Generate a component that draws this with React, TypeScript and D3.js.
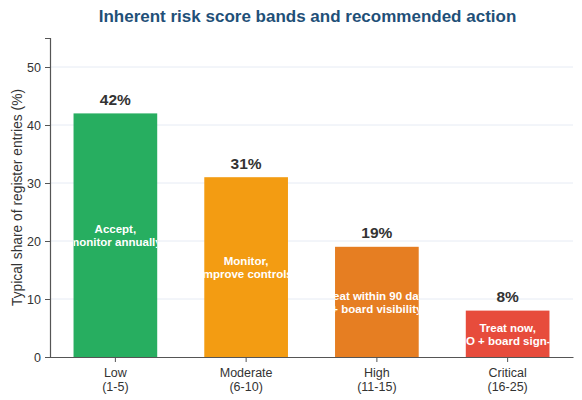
import { useEffect, useRef } from 'react';
import * as d3 from 'd3';

const WIDTH = 582;
const HEIGHT = 400;
const MARGIN = { top: 38, right: 9, bottom: 43, left: 50 };

const bands = ['Low', 'Moderate', 'High', 'Critical'];
const ranges = ['(1-5)', '(6-10)', '(11-15)', '(16-25)'];
const shares = [42, 31, 19, 8];
const actions = [
  ['Accept,', 'monitor annually'],
  ['Monitor,', 'improve controls'],
  ['Treat within 90 days', '+ board visibility'],
  ['Treat now,', 'CEO + board sign-off'],
];
const colors = ['#27ae60', '#f39c12', '#e67e22', '#e74c3c'];
const yTicks = [0, 10, 20, 30, 40, 50];

const FONT = '"Liberation Sans", Arial, sans-serif';

export default function App() {
  const svgRef = useRef<SVGSVGElement>(null);

  useEffect(() => {
    if (!svgRef.current) return;
    const svg = d3.select(svgRef.current);
    svg.selectAll('*').remove();

    const boundsWidth = WIDTH - MARGIN.left - MARGIN.right;
    const boundsHeight = HEIGHT - MARGIN.top - MARGIN.bottom;

    const x = d3.scaleBand().domain(bands).range([0, boundsWidth]).paddingInner(0.36).paddingOuter(0.18);
    const y = d3.scaleLinear().domain([0, 55]).range([boundsHeight, 0]);

    const g = svg.append('g').attr('transform', `translate(${MARGIN.left},${MARGIN.top})`);

    // grid
    g.selectAll('.grid')
      .data(yTicks.filter(t => t > 0))
      .join('line')
      .attr('x1', 0)
      .attr('x2', boundsWidth)
      .attr('y1', d => y(d))
      .attr('y2', d => y(d))
      .attr('stroke', '#e6ebf4')
      .attr('stroke-width', 1);

    const defs = svg.append('defs');
    bands.forEach((b, i) => {
      defs.append('clipPath').attr('id', `clip-${i}`)
        .append('rect')
        .attr('x', x(b)!)
        .attr('y', y(shares[i]))
        .attr('width', x.bandwidth())
        .attr('height', boundsHeight - y(shares[i]));
    });

    // bars
    g.selectAll('.bar')
      .data(bands)
      .join('rect')
      .attr('x', d => x(d)!)
      .attr('y', (_, i) => y(shares[i]))
      .attr('width', x.bandwidth())
      .attr('height', (_, i) => boundsHeight - y(shares[i]))
      .attr('fill', (_, i) => colors[i]);

    // value labels
    g.selectAll('.val')
      .data(bands)
      .join('text')
      .attr('x', d => x(d)! + x.bandwidth() / 2)
      .attr('y', (_, i) => y(shares[i]) - 8.5)
      .attr('text-anchor', 'middle')
      .style('font-family', FONT)
      .style('font-size', '15.5px')
      .style('font-weight', 'bold')
      .style('fill', '#333333')
      .text((_, i) => `${shares[i]}%`);

    // action labels inside bars (clipped to the bar)
    bands.forEach((b, i) => {
      const cx = x(b)! + x.bandwidth() / 2;
      const cy = y(shares[i] / 2);
      const t = g.append('text')
        .attr('clip-path', `url(#clip-${i})`)
        .attr('text-anchor', 'middle')
        .style('font-family', FONT)
        .style('font-size', '11.5px')
        .style('font-weight', 'bold')
        .style('fill', '#ffffff');
      actions[i].forEach((line, j) => {
        t.append('tspan')
          .attr('x', cx)
          .attr('y', cy + (j - 0.5) * 13.5 + 4.5)
          .text(line);
      });
    });

    // y axis
    const yAxis = g.append('g')
      .call(d3.axisLeft(y).tickValues(yTicks).tickSize(5).tickPadding(4));
    yAxis.select('.domain').attr('stroke', '#555555').attr('stroke-width', 1.2);
    yAxis.selectAll('.tick line').attr('stroke', '#555555');
    yAxis.selectAll('text')
      .style('font-family', FONT)
      .style('font-size', '12.5px')
      .style('fill', '#333333');

    // x axis
    const xAxis = g.append('g')
      .attr('transform', `translate(0,${boundsHeight})`)
      .call(d3.axisBottom(x).tickSize(5).tickSizeOuter(0).tickFormat(() => ''));
    xAxis.select('.domain').attr('stroke', '#555555').attr('stroke-width', 1.2);
    xAxis.selectAll('.tick line').attr('stroke', '#555555');
    bands.forEach((b, i) => {
      const t = g.append('text')
        .attr('text-anchor', 'middle')
        .style('font-family', FONT)
        .style('font-size', '12.5px')
        .style('fill', '#333333');
      [b, ranges[i]].forEach((line, j) => {
        t.append('tspan')
          .attr('x', x(b)! + x.bandwidth() / 2)
          .attr('y', boundsHeight + 20 + j * 14)
          .text(line);
      });
    });

    // y axis title
    g.append('text')
      .attr('transform', `translate(${-28},${boundsHeight / 2}) rotate(-90)`)
      .attr('text-anchor', 'middle')
      .style('font-family', FONT)
      .style('font-size', '13.8px')
      .style('fill', '#333333')
      .text('Typical share of register entries (%)');

    // title
    svg.append('text')
      .attr('x', MARGIN.left + boundsWidth / 2 - 4)
      .attr('y', 22)
      .attr('text-anchor', 'middle')
      .style('font-family', FONT)
      .style('font-size', '17px')
      .style('font-weight', 'bold')
      .style('fill', '#1f5078')
      .text('Inherent risk score bands and recommended action');
  }, []);

  return (
    <svg
      ref={svgRef}
      width={WIDTH}
      height={HEIGHT}
      style={{ position: 'absolute', left: 0, top: 0, background: '#ffffff' }}
    />
  );
}
